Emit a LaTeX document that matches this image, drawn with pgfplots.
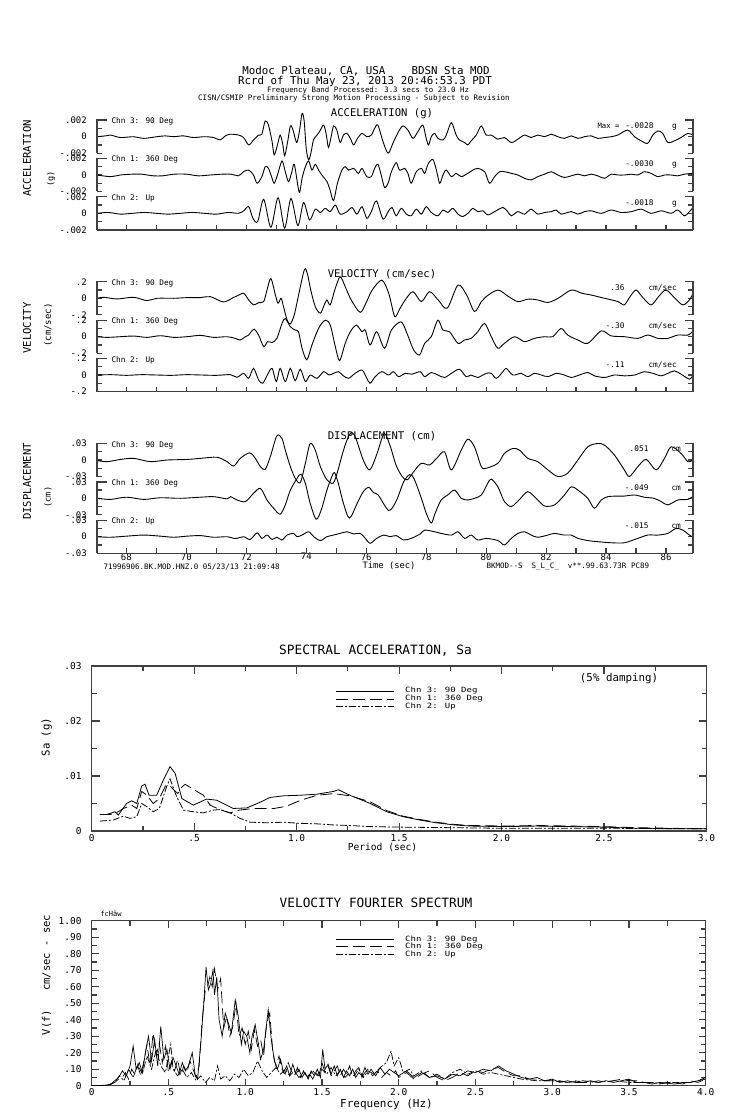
\documentclass[border=0pt]{standalone}
\usepackage{fontspec}
\setmainfont{DejaVu Sans Mono}
\usepackage{pgfplots}
\pgfplotsset{compat=1.18}
\newcommand{\fs}[1]{\fontsize{#1}{#1}\selectfont}
\tikzset{
  axl/.style={black!75, line width=1.4pt},
  tr/.style={black, line width=0.9pt, smooth, mark=none},
  c3/.style={black, line width=0.8pt, mark=none},
  c1/.style={black, line width=0.8pt, mark=none, dash pattern=on 12pt off 5pt},
  c2/.style={black, line width=0.8pt, mark=none, dash pattern=on 7pt off 2pt on 2pt off 2pt},
}
\pgfplotsset{
  tp/.style={scale only axis, width=596pt, height=33pt, xmin=67.02, xmax=86.9,
    clip=false, anchor=west, axis line style={draw=none}, tick align=inside,
    scaled y ticks=false,
    xtick=\empty, ytick pos=both, major tick length=5pt, minor tick length=5pt,
    tick style={line width=1.2pt, black!75},
    yticklabel style={font=\fs{9}, anchor=east, inner sep=0pt, xshift=-10pt}},
  tpb/.style={xtick={68,69,...,86}, xtick pos=left, xticklabels={}},
  acc/.style={ymin=-0.002, ymax=0.002, ytick={-0.002,0,0.002}, yticklabels={-.002,0,.002}, minor ytick={-0.001,0.001}},
  vel/.style={ymin=-0.2, ymax=0.2, ytick={-0.2,0,0.2}, yticklabels={-.2,0,.2}, minor ytick={-0.1,0.1}},
  dis/.style={ymin=-0.03, ymax=0.03, ytick={-0.03,0,0.03}, yticklabels={-.03,0,.03}, minor ytick={-0.015,0.015}},
  sp/.style={scale only axis, anchor=south west, axis line style={black!75, line width=1.4pt},
    scaled ticks=false,
    tick align=inside, xtick pos=both, ytick pos=both, major tick length=8pt, minor tick length=5pt,
    tick style={line width=1.2pt, black!75},
    yticklabel style={font=\fs{9.5}, anchor=east, inner sep=0pt, xshift=-10pt},
    xticklabel style={font=\fs{9.5}, inner sep=0pt, yshift=-3pt}},
}
\newcommand{\brk}{\draw[axl] (rel axis cs:0,0) -- (rel axis cs:0,1) -- ([xshift=10pt]rel axis cs:0,1);
  \draw[axl] (rel axis cs:1,0) -- (rel axis cs:1,1) -- ([xshift=-8pt]rel axis cs:1,1);}
\newcommand{\base}{\draw[axl] (rel axis cs:0,0) -- (rel axis cs:1,0);}

\begin{document}
\begin{tikzpicture}[x=1pt,y=1pt]
\useasboundingbox (0,0) rectangle (739,-1115);

% ---------- header ----------
\node[anchor=base, font=\fs{10.8}] at (366,-75) {Modoc Plateau, CA, USA\ \ \ \ BDSN Sta MOD};
\node[anchor=base, font=\fs{10.8}] at (365,-85) {Rcrd of Thu May 23, 2013 20:46:53.3 PDT};
\node[anchor=base, font=\fs{7.4}] at (368,-92.5) {Frequency Band Processed: 3.3 secs to 23.0 Hz};
\node[anchor=base, font=\fs{7.5}] at (354,-100.5) {CISN/CSMIP Preliminary Strong Motion Processing - Subject to Revision};

% ---------- acceleration ----------
\node[anchor=base, font=\fs{10.6}] at (382,-117) {ACCELERATION (g)};
\node[rotate=90, font=\fs{10.6}] at (27,-158.5) {ACCELERATION};
\node[rotate=90, font=\fs{8.5}] at (51,-179) {(g)};

\begin{axis}[tp, acc, at={(97pt,-136.7pt)}]
\addplot[tr] coordinates {(67.02,0) (67.3,.0001) (67.47,.0002) (67.8,-.0001) (68.24,0) (68.58,-.0002) (69.02,0) (69.3,.0001) (69.58,0) (69.9,.0001) (70.24,-.0001) (70.6,0) (70.91,-.0001) (71.13,-.0004) (71.3,.0001) (71.47,.0003) (71.74,.0002) (71.91,-.0001) (72.08,-.001) (72.24,-.0004) (72.41,.0002) (72.52,.0003) (72.63,.0019) (72.74,.0014) (72.86,-.0006) (72.93,-.0022) (73.04,-.001) (73.13,.0002) (73.22,-.001) (73.28,-.0023) (73.38,-.0006) (73.47,.0013) (73.56,.0008) (73.63,-.0002) (73.69,-.0007) (73.77,.0006) (73.86,.0028) (73.93,.0019) (74.0,-.0015) (74.08,-.0028) (74.16,-.0019) (74.24,-.0004) (74.36,.0002) (74.44,.0006) (74.58,.0014) (74.67,.0002) (74.74,-.0013) (74.83,0) (74.91,.0013) (75.02,.0008) (75.13,-.0007) (75.24,.0002) (75.36,.0004) (75.47,-.0002) (75.58,-.001) (75.71,-.0002) (75.86,.0004) (76.02,0) (76.17,.0002) (76.28,.001) (76.39,.0014) (76.56,-.0006) (76.73,-.002) (76.89,-.0008) (77.06,.0005) (77.22,.0013) (77.39,.0008) (77.56,-.0002) (77.72,.0006) (77.89,.0014) (78.0,-.0002) (78.08,-.001) (78.17,0) (78.28,.0004) (78.39,-.0002) (78.56,-.0004) (78.67,.0002) (78.84,.0017) (79.0,.0002) (79.11,-.0004) (79.28,-.0007) (79.39,-.001) (79.5,-.0005) (79.67,.0002) (79.84,.0013) (80.0,.0002) (80.17,.0002) (80.39,-.0003) (80.61,-.0001) (80.84,-.0007) (81.06,-.0003) (81.28,.0002) (81.5,-.0001) (81.72,.0002) (81.95,0) (82.17,.0003) (82.39,0) (82.61,-.0002) (82.84,.0001) (83.06,-.0002) (83.28,0) (83.5,.0001) (83.72,-.0002) (83.95,-.0001) (84.17,0) (84.39,.0002) (84.72,.0008) (84.95,0) (85.17,-.0005) (85.39,-.0008) (85.56,.0002) (85.73,.0007) (85.89,.0004) (86.06,-.0007) (86.28,-.0005) (86.5,-.0001) (86.73,.0004) (86.9,.0002)};
\brk
\end{axis}

\begin{axis}[tp, acc, at={(97pt,-175pt)}]
\addplot[tr] coordinates {(67.02,0) (67.47,-.0002) (67.8,0) (68.2,.0001) (68.5,.0001) (68.9,-.0001) (69.2,-.0001) (69.6,.0001) (70.0,.0001) (70.4,-.0001) (70.8,0) (71.2,.0001) (71.5,.0001) (71.74,-.0001) (71.91,.0004) (72.08,.0006) (72.24,0) (72.36,-.001) (72.52,-.0002) (72.63,.001) (72.74,.0008) (72.86,-.0004) (72.93,-.001) (73.04,0) (73.19,.0017) (73.3,.0004) (73.41,-.0008) (73.52,.0004) (73.6,.0013) (73.72,-.0013) (73.78,-.0021) (73.86,-.0004) (73.97,.001) (74.08,.0017) (74.19,.0006) (74.3,.0013) (74.41,.0006) (74.52,0) (74.69,-.0008) (74.8,-.0019) (74.91,-.0031) (75.04,-.001) (75.19,.0006) (75.3,.001) (75.41,.0006) (75.58,.0008) (75.74,.0002) (75.86,.0008) (76.02,-.0002) (76.17,-.0002) (76.28,.0008) (76.39,.0013) (76.5,0) (76.61,-.0015) (76.73,-.001) (76.84,.0004) (77.0,.0015) (77.11,.0006) (77.28,.0008) (77.39,.0002) (77.5,-.001) (77.67,.0004) (77.84,.0008) (77.95,.0002) (78.06,.0013) (78.22,.0019) (78.34,.0006) (78.45,-.001) (78.56,0) (78.67,.0006) (78.84,-.0002) (79.0,.0002) (79.17,-.0002) (79.39,.0002) (79.56,.0006) (79.72,.0008) (79.95,.0004) (80.11,-.001) (80.28,-.0002) (80.45,.0004) (80.61,.0004) (80.84,.0002) (81.06,0) (81.28,-.0004) (81.5,-.0006) (81.72,-.0002) (81.95,.0001) (82.17,.0004) (82.39,0) (82.61,-.0003) (82.84,-.0001) (83.06,.0001) (83.28,-.0001) (83.5,.0001) (83.72,-.0001) (83.95,-.0004) (84.17,.0001) (84.39,0) (84.61,0) (84.84,.0001) (85.06,0) (85.28,.0004) (85.5,.0002) (85.73,-.0002) (85.95,0) (86.17,0) (86.39,-.0001) (86.61,.0001) (86.9,.0002)};
\brk
\end{axis}

\begin{axis}[tp, acc, tpb, at={(97pt,-213.3pt)}]
\addplot[tr] coordinates {(67.02,0) (67.4,.0001) (67.8,-.0001) (68.2,0) (68.6,.0001) (69.0,0) (69.4,-.0001) (69.8,0) (70.2,.0001) (70.6,0) (71.0,-.0001) (71.4,.0001) (71.74,0) (71.91,.0003) (72.08,.0008) (72.22,-.0006) (72.38,-.001) (72.58,.0017) (72.82,-.0017) (73.06,.0019) (73.28,-.0018) (73.49,.0018) (73.72,-.0015) (73.91,.0013) (74.11,-.0008) (74.3,.0005) (74.47,.0001) (74.63,.0006) (74.8,.0002) (74.97,.001) (75.13,-.0001) (75.36,.0002) (75.53,.0007) (75.69,-.0001) (75.86,.0008) (76.02,-.0006) (76.17,.0002) (76.34,.0015) (76.56,-.0007) (76.73,.0002) (76.86,.0007) (77.0,-.0003) (77.17,.0006) (77.34,-.0001) (77.5,-.0003) (77.67,.0005) (77.84,-.0001) (78.0,.0008) (78.17,.0001) (78.39,-.0003) (78.56,.0004) (78.72,.0001) (78.89,.0006) (79.06,-.0001) (79.22,-.0004) (79.39,0) (79.56,.0006) (79.72,.0002) (79.89,.0003) (80.06,-.0002) (80.28,.0002) (80.56,.0007) (80.72,.0002) (80.84,-.0003) (81.06,.0002) (81.28,-.0001) (81.5,.0005) (81.72,-.0001) (81.95,.0001) (82.17,.0002) (82.34,.0004) (82.5,-.0001) (82.84,.0002) (83.06,-.0001) (83.28,.0002) (83.5,.0003) (83.84,0) (84.17,.0004) (84.5,.0001) (84.84,.0002) (85.17,.0005) (85.5,0) (85.84,.0003) (86.17,0) (86.39,.0004) (86.61,-.0003) (86.78,.0002) (86.9,.0007)};
\brk \base
\end{axis}

\node[anchor=base west, font=\fs{7.7}] at (108,-124) {Chn 3: 90 Deg};
\node[anchor=base west, font=\fs{7.7}] at (108,-162) {Chn 1: 360 Deg};
\node[anchor=base west, font=\fs{7.7}] at (108,-200.3) {Chn 2: Up};
\node[anchor=base west, font=\fs{7.3}] at (594,-128.7) {Max =};
\node[anchor=base east, font=\fs{7.8}] at (657,-128.7) {-.0028};
\node[anchor=base east, font=\fs{7.8}] at (657,-167) {-.0030};
\node[anchor=base east, font=\fs{7.8}] at (657,-205.3) {-.0018};
\node[anchor=base, font=\fs{7.8}] at (674.5,-128.7) {g};
\node[anchor=base, font=\fs{7.8}] at (674.5,-167) {g};
\node[anchor=base, font=\fs{7.8}] at (674.5,-205.3) {g};

% ---------- velocity ----------
\node[anchor=base, font=\fs{10.6}] at (382,-277) {VELOCITY (cm/sec)};
\node[rotate=90, font=\fs{10.6}] at (27,-328) {VELOCITY};
\node[rotate=90, font=\fs{9}] at (48,-325) {(cm/sec)};

\begin{axis}[tp, vel, at={(97pt,-298.3pt)}]
\addplot[tr] coordinates {(67.02,0) (67.24,.012) (67.69,-.008) (68.24,.012) (68.69,-.028) (69.02,0) (69.58,0) (70.02,.008) (70.47,.008) (70.8,.02) (71.24,-.044) (71.58,.012) (71.69,.028) (71.91,.06) (72.08,-.02) (72.24,-.08) (72.41,-.053) (72.58,-.04) (72.69,.10) (72.82,.24) (72.97,.04) (73.06,-.06) (73.16,0) (73.24,-.10) (73.36,-.26) (73.47,-.31) (73.6,-.20) (73.75,.05) (73.9,.30) (73.97,.36) (74.05,.28) (74.15,.10) (74.3,-.10) (74.47,-.18) (74.6,-.08) (74.69,-.02) (74.8,-.08) (74.95,.10) (75.13,.26) (75.3,.14) (75.5,-.02) (75.8,-.17) (76.0,-.05) (76.2,.10) (76.52,.22) (76.75,.06) (76.95,-.22) (77.1,-.14) (77.3,-.02) (77.56,.08) (77.84,-.04) (78.11,.08) (78.4,-.02) (78.7,-.12) (79.06,.16) (79.35,.04) (79.61,-.16) (79.84,-.04) (80.0,.02) (80.39,.10) (80.75,.02) (81.06,-.04) (81.4,-.01) (81.72,-.02) (82.06,-.05) (82.4,0) (82.84,.10) (83.2,.06) (83.5,.04) (83.95,0) (84.4,-.04) (84.61,-.08) (84.8,.02) (85.0,.10) (85.2,.02) (85.5,-.08) (85.75,.02) (86.0,.10) (86.3,0) (86.56,-.08) (86.78,-.02) (86.9,.06)};
\brk
\end{axis}

\begin{axis}[tp, vel, at={(97pt,-336.7pt)}]
\addplot[tr] coordinates {(67.02,0) (67.36,-.008) (67.8,0) (68.24,.008) (68.69,-.008) (69.13,.012) (69.58,-.008) (70.02,0) (70.47,.016) (70.91,-.008) (71.36,0) (71.63,-.02) (71.8,-.04) (71.97,0) (72.08,.02) (72.16,.06) (72.27,.09) (72.41,.02) (72.58,-.12) (72.71,-.06) (72.86,-.07) (73.02,-.02) (73.19,.16) (73.3,.22) (73.47,.12) (73.63,.08) (73.74,.06) (73.86,-.14) (74.02,-.28) (74.19,-.10) (74.41,.10) (74.63,.20) (74.8,.14) (74.97,-.12) (75.11,-.29) (75.3,-.08) (75.47,.06) (75.67,.14) (75.86,.06) (75.97,.08) (76.13,-.10) (76.35,.06) (76.61,-.14) (76.84,.08) (77.16,.18) (77.36,.04) (77.58,-.16) (77.78,-.22) (77.95,-.08) (78.17,0) (78.39,.20) (78.56,.08) (78.78,.06) (79.06,-.08) (79.28,-.04) (79.5,-.02) (79.72,.06) (79.95,.16) (80.17,0) (80.39,-.14) (80.61,-.08) (80.95,0) (81.28,-.06) (81.61,-.02) (81.95,0) (82.22,0) (82.5,.10) (82.72,.02) (83.06,-.04) (83.39,-.08) (83.84,.07) (84.17,.01) (84.61,0) (85.06,-.02) (85.39,.02) (85.73,-.02) (86.06,-.02) (86.39,.02) (86.73,.02) (86.9,.07)};
\brk
\end{axis}

\begin{axis}[tp, vel, tpb, at={(97pt,-375pt)}]
\addplot[tr] coordinates {(67.02,0) (67.5,.004) (68.0,-.004) (68.5,.004) (69,0) (69.5,-.004) (70,.004) (70.5,0) (71,-.004) (71.47,.004) (71.69,-.028) (71.91,.02) (72.08,-.04) (72.24,.08) (72.41,-.06) (72.55,-.10) (72.7,0) (72.86,.08) (73.0,-.08) (73.13,.08) (73.3,-.08) (73.47,.08) (73.63,-.07) (73.8,.07) (73.97,-.08) (74.13,0) (74.36,-.04) (74.58,.04) (74.75,0) (74.91,.02) (75.08,.04) (75.24,-.01) (75.41,-.04) (75.63,.02) (75.86,.06) (76.02,-.04) (76.13,-.10) (76.3,-.02) (76.52,.04) (76.74,0) (76.91,.04) (77.08,-.02) (77.3,.02) (77.52,.01) (77.8,.04) (77.95,-.02) (78.17,.03) (78.39,0) (78.61,-.03) (78.84,.02) (79.11,.07) (79.33,-.02) (79.5,0) (79.72,-.03) (80.0,.02) (80.17,.02) (80.34,-.04) (80.56,.04) (80.67,.08) (80.89,0) (81.17,.02) (81.39,-.02) (81.61,.02) (81.84,0) (82.06,-.02) (82.34,.02) (82.61,0) (82.84,-.03) (83.11,0) (83.39,.03) (83.61,-.01) (83.95,-.03) (84.28,0) (84.61,-.01) (84.95,0) (85.28,.04) (85.56,.02) (85.84,-.01) (86.06,.02) (86.28,.05) (86.5,.01) (86.78,-.05) (86.9,0)};
\brk \base
\end{axis}

\node[anchor=base west, font=\fs{7.7}] at (108,-285.3) {Chn 3: 90 Deg};
\node[anchor=base west, font=\fs{7.7}] at (108,-323.7) {Chn 1: 360 Deg};
\node[anchor=base west, font=\fs{7.7}] at (108,-362) {Chn 2: Up};
\node[anchor=base east, font=\fs{7.8}] at (628,-290.5) {.36};
\node[anchor=base east, font=\fs{7.8}] at (628,-328.8) {-.30};
\node[anchor=base east, font=\fs{7.8}] at (628,-367.2) {-.11};
\node[anchor=base west, font=\fs{7.8}] at (645,-290.5) {cm/sec};
\node[anchor=base west, font=\fs{7.8}] at (645,-328.8) {cm/sec};
\node[anchor=base west, font=\fs{7.8}] at (645,-367.2) {cm/sec};

% ---------- displacement ----------
\node[anchor=base, font=\fs{10.6}] at (382,-439) {DISPLACEMENT (cm)};
\node[rotate=90, font=\fs{10.6}] at (27,-481.5) {DISPLACEMENT};
\node[rotate=90, font=\fs{8.5}] at (48,-497) {(cm)};

\begin{axis}[tp, dis, at={(97pt,-460pt)}]
\addplot[tr] coordinates {(67.02,-.001) (67.36,-.003) (67.8,.001) (68.24,.003) (68.8,-.003) (69.36,0) (70.02,.001) (70.47,.003) (71.02,.005) (71.36,-.003) (71.58,-.011) (71.8,.003) (72.11,.013) (72.3,.003) (72.47,-.012) (72.63,-.017) (72.8,.006) (73.02,.044) (73.19,.039) (73.3,.018) (73.47,-.012) (73.63,-.033) (73.8,-.041) (73.97,-.006) (74.13,.03) (74.3,.018) (74.47,-.012) (74.69,-.036) (74.9,-.042) (75.05,-.02) (75.2,.01) (75.35,.035) (75.5,.05) (75.65,.04) (75.9,0) (76.12,-.018) (76.35,.01) (76.6,.048) (76.8,.025) (77.0,-.01) (77.2,-.03) (77.37,-.036) (77.6,-.02) (77.84,-.006) (78.11,-.009) (78.35,.003) (78.61,.015) (78.84,-.018) (79.17,.018) (79.39,.038) (79.61,.024) (79.84,-.012) (80.0,-.015) (80.39,-.006) (80.61,.012) (80.89,.021) (81.11,.018) (81.39,.003) (81.72,-.003) (82.06,-.018) (82.39,-.03) (82.72,-.024) (83.06,0) (83.39,.024) (83.72,.03) (83.95,.027) (84.28,.009) (84.61,-.018) (84.78,-.03) (85.06,-.012) (85.34,.001) (85.67,-.018) (85.95,.003) (86.17,.024) (86.5,.012) (86.73,-.003) (86.9,0)};
\brk
\end{axis}

\begin{axis}[tp, dis, at={(97pt,-498.3pt)}]
\addplot[tr] coordinates {(67.02,0) (67.47,-.002) (68.0,.002) (68.58,-.002) (69.13,.001) (69.8,0) (70.47,.002) (70.91,.003) (71.36,-.001) (71.47,.003) (71.69,-.003) (71.97,-.006) (72.24,.009) (72.47,.018) (72.69,-.003) (72.91,-.018) (73.13,-.029) (73.3,-.012) (73.47,.015) (73.69,.036) (73.82,.044) (73.97,.027) (74.13,-.009) (74.33,-.038) (74.5,-.021) (74.69,.015) (74.85,.039) (74.94,.047) (75.07,.027) (75.24,-.009) (75.44,-.036) (75.7,-.009) (75.9,.012) (76.08,.02) (76.25,.01) (76.4,.006) (76.75,-.022) (77.0,-.005) (77.25,.03) (77.45,.043) (77.6,.035) (77.84,0) (78.0,-.027) (78.17,-.045) (78.3,-.027) (78.5,-.003) (78.72,.006) (78.95,.015) (79.17,0) (79.39,-.003) (79.61,0) (79.84,.006) (80.05,.027) (80.17,.035) (80.39,.021) (80.61,-.006) (80.84,-.015) (81.1,-.003) (81.39,.012) (81.72,-.003) (81.95,-.014) (82.28,-.012) (82.61,.006) (82.84,.021) (83.06,.015) (83.39,0) (83.61,-.018) (83.84,-.003) (84.06,.003) (84.4,.004) (84.6,.004) (84.95,.006) (85.28,.002) (85.6,0) (85.84,-.006) (86.06,-.012) (86.4,-.003) (86.73,-.002) (86.9,.004)};
\brk
\end{axis}

\begin{axis}[tp, dis, at={(97pt,-536.7pt)}, xtick={68,70,...,86}, minor xtick={69,71,...,85}, xtick pos=left,
  xticklabels={68,70,72,74,76,78,80,82,84,86}, xticklabel style={font=\fs{9}, inner sep=0pt}]
\addplot[tr] coordinates {(67.02,0) (67.47,-.001) (68.0,.001) (68.58,.003) (69.13,.001) (69.58,-.001) (70.02,.001) (70.47,.002) (70.91,-.001) (71.36,0) (71.58,-.003) (71.69,-.003) (71.91,0) (72.13,-.005) (72.36,.007) (72.52,-.003) (72.69,.003) (72.86,-.005) (73.02,-.001) (73.19,-.006) (73.36,.003) (73.58,.006) (73.69,0) (73.86,.003) (74.08,.009) (74.25,0) (74.47,-.007) (74.69,0) (74.91,.003) (75.13,.006) (75.36,.009) (75.58,.005) (75.8,.006) (75.97,-.003) (76.13,-.012) (76.35,-.003) (76.58,.003) (76.8,0) (77.0,.002) (77.25,-.006) (77.5,-.003) (77.8,.005) (77.95,.012) (78.28,.009) (78.5,.006) (78.84,.003) (79.06,.009) (79.28,-.003) (79.5,.003) (79.72,-.006) (80.0,-.003) (80.39,-.007) (80.61,-.015) (80.84,-.003) (81.06,.006) (81.28,.009) (81.5,.003) (81.72,-.001) (82.06,.003) (82.28,.006) (82.6,.003) (82.84,.003) (83.06,-.003) (83.39,-.007) (83.72,-.009) (84.17,-.011) (84.61,-.011) (85.06,-.003) (85.39,.003) (85.73,.003) (86.06,.006) (86.33,.015) (86.56,.012) (86.78,.003) (86.9,-.001)};
\brk \base
\end{axis}

\node[anchor=base west, font=\fs{7.7}] at (108,-447) {Chn 3: 90 Deg};
\node[anchor=base west, font=\fs{7.7}] at (108,-485.3) {Chn 1: 360 Deg};
\node[anchor=base west, font=\fs{7.7}] at (108,-523.7) {Chn 2: Up};
\node[anchor=base east, font=\fs{7.8}] at (652,-451.7) {.051};
\node[anchor=base east, font=\fs{7.8}] at (652,-490) {-.049};
\node[anchor=base east, font=\fs{7.8}] at (652,-528.4) {-.015};
\node[anchor=base west, font=\fs{7.8}] at (668,-451.7) {cm};
\node[anchor=base west, font=\fs{7.8}] at (668,-490) {cm};
\node[anchor=base west, font=\fs{7.8}] at (668,-528.4) {cm};

\node[font=\fs{8.8}] at (389,-566) {Time (sec)};
\node[anchor=west, font=\fs{7.5}] at (100,-566.7) {71996906.BK.MOD.HNZ.0 05/23/13 21:09:48};
\node[anchor=west, font=\fs{7.5}] at (483,-567) {BKMOD{-}{-}S\ \ S\_L\_C\_\ \ v**.99.63.73R PC89};

% ---------- spectral acceleration ----------
\node[font=\fs{12.8}] at (375.5,-650.7) {SPECTRAL ACCELERATION, Sa};
\node[font=\fs{10.8}] at (619,-679) {(5\% damping)};
\node[rotate=90, font=\fs{10.7}] at (46.7,-737) {Sa (g)};
\node[font=\fs{9.6}] at (382.5,-847) {Period (sec)};

\begin{axis}[sp, width=614.8pt, height=165pt, at={(91.7pt,-831pt)},
  xmin=0, xmax=3, ymin=0, ymax=0.03,
  xtick={0,0.5,1,1.5,2,2.5,3}, xticklabels={0,.5,1.0,1.5,2.0,2.5,3.0},
  minor xtick={0.25,0.75,1.25,1.75,2.25,2.75},
  ytick={0,0.01,0.02,0.03}, yticklabels={0,.01,.02,.03}, minor ytick={0.005,0.015,0.025}]
\addplot[c3] coordinates {(0.04,.0030) (0.073,.0030) (0.114,.0035) (0.13,.0029) (0.17,.0050) (0.195,.0055) (0.22,.0050) (0.244,.0082) (0.26,.0085) (0.28,.0065) (0.317,.0065) (0.35,.0093) (0.382,.0117) (0.407,.0105) (0.44,.0059) (0.496,.0047) (0.56,.0058) (0.61,.0056) (0.69,.0041) (0.757,.0042) (0.82,.0052) (0.87,.0061) (0.936,.0064) (1.017,.0065) (1.10,.0067) (1.18,.0072) (1.204,.0075) (1.26,.0065) (1.36,.0050) (1.44,.0035) (1.52,.0026) (1.60,.0020) (1.68,.0015) (1.77,.0011) (1.85,.0009) (2.01,.0008) (2.17,.0009) (2.34,.0008) (2.50,.0007) (2.66,.0005) (2.82,.0004) (3.0,.0004)};
\addplot[c1] coordinates {(0.04,.0030) (0.09,.0030) (0.12,.0033) (0.155,.0041) (0.195,.0047) (0.22,.0041) (0.244,.0072) (0.27,.0065) (0.30,.0050) (0.33,.0059) (0.36,.0082) (0.38,.0083) (0.40,.0075) (0.42,.0068) (0.44,.0080) (0.456,.0085) (0.50,.0075) (0.545,.0065) (0.578,.0047) (0.63,.0038) (0.675,.0033) (0.72,.0038) (0.79,.0041) (0.89,.0041) (0.95,.0045) (1.02,.0056) (1.10,.0065) (1.18,.0068) (1.26,.0064) (1.36,.0053) (1.44,.0037) (1.52,.0027) (1.6,.0021) (1.68,.0016) (1.77,.0012) (1.85,.0010) (2.01,.0009) (2.17,.0010) (2.34,.0009) (2.5,.0008) (2.66,.0006) (2.82,.0005) (3.0,.0004)};
\addplot[c2] coordinates {(0.04,.0018) (0.106,.0020) (0.155,.0027) (0.187,.0023) (0.22,.0026) (0.244,.0050) (0.27,.0044) (0.30,.0035) (0.33,.0041) (0.366,.0081) (0.382,.0095) (0.415,.0062) (0.448,.0038) (0.496,.0035) (0.545,.0033) (0.594,.0038) (0.627,.0039) (0.675,.0033) (0.724,.0023) (0.773,.0016) (0.855,.0015) (0.936,.0016) (1.017,.0014) (1.10,.0013) (1.18,.0011) (1.26,.0010) (1.36,.0008) (1.52,.0007) (2.0,.0005) (2.5,.0005) (3.0,.0004)};
\end{axis}

\draw[c3] (336,-691) -- (394,-691);
\draw[c1] (336,-699) -- (394,-699);
\draw[c2] (336,-706.7) -- (394,-706.7);
\node[anchor=west, font=\fs{9}, inner sep=0pt] at (405,-691) {\scalebox{1}[0.8]{Chn 3: 90 Deg}};
\node[anchor=west, font=\fs{9}, inner sep=0pt] at (405,-698.7) {\scalebox{1}[0.8]{Chn 1: 360 Deg}};
\node[anchor=west, font=\fs{9}, inner sep=0pt] at (405,-706.4) {\scalebox{1}[0.8]{Chn 2: Up}};

% ---------- velocity Fourier spectrum ----------
\node[font=\fs{12.8}] at (376,-903) {VELOCITY FOURIER SPECTRUM};
\node[anchor=west, font=\fs{7}] at (97,-914) {fcHäw};
\node[rotate=90, font=\fs{10.5}] at (46.7,-975) {V(f)\ \ \ cm/sec - sec};
\node[font=\fs{11}] at (386.5,-1104) {Frequency (Hz)};

\begin{axis}[sp, width=614pt, height=165pt, at={(91.7pt,-1085.7pt)},
  xmin=0, xmax=4, ymin=0, ymax=1, major tick length=7pt,
  xtick={0,0.5,1,1.5,2,2.5,3,3.5,4}, xticklabels={0,.5,1.0,1.5,2.0,2.5,3.0,3.5,4.0},
  minor xtick={0.25,0.75,1.25,1.75,2.25,2.75,3.25,3.75},
  ytick={0,0.1,0.2,0.3,0.4,0.5,0.6,0.7,0.8,0.9,1},
  yticklabels={0,.10,.20,.30,.40,.50,.60,.70,.80,.90,1.00},
  minor ytick={0.05,0.15,0.25,0.35,0.45,0.55,0.65,0.75,0.85,0.95}]
\addplot[c3, line width=0.7pt] coordinates {(0,0) (0.05,.001) (0.1,.004) (0.125,.01) (0.15,.03) (0.175,.05) (0.2,.09) (0.225,.06) (0.25,.12) (0.27,.24) (0.29,.10) (0.31,.14) (0.33,.08) (0.35,.20) (0.37,.30) (0.39,.15) (0.41,.28) (0.43,.12) (0.45,.36) (0.47,.16) (0.49,.22) (0.51,.10) (0.53,.17) (0.55,.12) (0.57,.07) (0.59,.14) (0.61,.09) (0.63,.12) (0.655,.20) (0.675,.06) (0.69,.04) (0.71,.25) (0.73,.50) (0.745,.72) (0.76,.58) (0.775,.62) (0.79,.70) (0.80,.55) (0.815,.66) (0.83,.40) (0.85,.30) (0.87,.44) (0.89,.38) (0.91,.32) (0.935,.52) (0.955,.42) (0.975,.25) (0.99,.33) (1.01,.30) (1.03,.20) (1.045,.30) (1.065,.37) (1.085,.26) (1.10,.16) (1.12,.22) (1.15,.46) (1.17,.28) (1.19,.15) (1.21,.10) (1.23,.16) (1.25,.08) (1.27,.12) (1.29,.06) (1.31,.13) (1.33,.07) (1.35,.10) (1.37,.05) (1.39,.08) (1.41,.04) (1.43,.09) (1.45,.06) (1.47,.10) (1.49,.05) (1.505,.22) (1.52,.10) (1.54,.13) (1.56,.07) (1.58,.12) (1.60,.06) (1.62,.10) (1.64,.05) (1.66,.09) (1.68,.06) (1.70,.10) (1.72,.05) (1.74,.08) (1.76,.06) (1.78,.11) (1.80,.07) (1.82,.10) (1.85,.06) (1.88,.11) (1.91,.07) (1.94,.10) (1.97,.08) (2.0,.06) (2.05,.09) (2.1,.05) (2.15,.08) (2.2,.05) (2.25,.06) (2.3,.04) (2.35,.07) (2.4,.06) (2.45,.09) (2.5,.08) (2.55,.10) (2.6,.09) (2.65,.12) (2.7,.09) (2.75,.07) (2.8,.05) (2.85,.04) (2.9,.05) (2.95,.03) (3.0,.04) (3.05,.02) (3.1,.03) (3.15,.02) (3.2,.02) (3.25,.03) (3.3,.02) (3.35,.03) (3.4,.02) (3.45,.03) (3.5,.04) (3.55,.02) (3.6,.02) (3.65,.01) (3.7,.02) (3.75,.015) (3.8,.01) (3.85,.02) (3.9,.02) (3.95,.03) (4.0,.05)};
\addplot[c1, line width=0.7pt] coordinates {(0,0) (0.05,.001) (0.1,.003) (0.125,.008) (0.15,.02) (0.175,.04) (0.2,.05) (0.22,.08) (0.24,.04) (0.26,.10) (0.28,.07) (0.30,.12) (0.32,.06) (0.34,.15) (0.36,.25) (0.38,.12) (0.40,.32) (0.42,.18) (0.44,.26) (0.46,.14) (0.48,.24) (0.50,.08) (0.52,.15) (0.54,.09) (0.56,.16) (0.58,.06) (0.60,.12) (0.62,.08) (0.64,.15) (0.66,.10) (0.68,.05) (0.70,.12) (0.72,.40) (0.74,.58) (0.755,.60) (0.77,.66) (0.785,.60) (0.80,.71) (0.82,.58) (0.84,.65) (0.86,.35) (0.88,.42) (0.90,.30) (0.92,.36) (0.94,.50) (0.96,.30) (0.98,.35) (1.00,.25) (1.02,.33) (1.04,.22) (1.06,.34) (1.08,.24) (1.10,.28) (1.12,.18) (1.14,.38) (1.16,.44) (1.18,.20) (1.20,.12) (1.22,.18) (1.24,.10) (1.26,.07) (1.28,.14) (1.30,.09) (1.32,.06) (1.34,.11) (1.36,.05) (1.38,.09) (1.40,.05) (1.42,.07) (1.44,.04) (1.46,.08) (1.48,.06) (1.50,.14) (1.52,.08) (1.54,.12) (1.56,.06) (1.58,.09) (1.60,.12) (1.62,.06) (1.64,.10) (1.66,.07) (1.68,.12) (1.70,.06) (1.72,.09) (1.74,.11) (1.76,.05) (1.78,.08) (1.80,.10) (1.83,.06) (1.86,.09) (1.89,.05) (1.92,.08) (1.95,.06) (1.98,.09) (2.0,.05) (2.05,.08) (2.1,.04) (2.15,.07) (2.2,.09) (2.25,.05) (2.3,.03) (2.35,.05) (2.4,.08) (2.45,.06) (2.5,.09) (2.55,.08) (2.6,.10) (2.65,.11) (2.7,.08) (2.75,.06) (2.8,.06) (2.85,.04) (2.9,.04) (2.95,.03) (3.0,.03) (3.05,.03) (3.1,.02) (3.15,.03) (3.2,.02) (3.25,.02) (3.3,.03) (3.35,.02) (3.4,.03) (3.45,.04) (3.5,.03) (3.55,.03) (3.6,.02) (3.65,.02) (3.7,.01) (3.75,.02) (3.8,.02) (3.85,.01) (3.9,.03) (3.95,.02) (4.0,.04)};
\addplot[c2, line width=0.7pt] coordinates {(0,0) (0.1,.003) (0.15,.02) (0.18,.06) (0.21,.03) (0.24,.10) (0.27,.05) (0.30,.13) (0.33,.07) (0.36,.18) (0.39,.10) (0.42,.22) (0.45,.12) (0.48,.08) (0.50,.18) (0.515,.25) (0.53,.10) (0.56,.06) (0.59,.10) (0.62,.05) (0.65,.08) (0.68,.03) (0.71,.06) (0.74,.02) (0.77,.05) (0.80,.03) (0.82,.12) (0.84,.04) (0.87,.06) (0.90,.03) (0.93,.07) (0.96,.05) (0.99,.10) (1.02,.06) (1.05,.08) (1.08,.15) (1.11,.09) (1.14,.05) (1.17,.08) (1.20,.11) (1.23,.07) (1.26,.10) (1.29,.06) (1.32,.09) (1.35,.05) (1.38,.08) (1.41,.05) (1.44,.09) (1.47,.06) (1.50,.10) (1.53,.07) (1.56,.11) (1.59,.06) (1.62,.09) (1.65,.05) (1.68,.08) (1.71,.06) (1.74,.10) (1.77,.05) (1.80,.09) (1.84,.07) (1.88,.11) (1.92,.14) (1.95,.21) (1.97,.12) (2.0,.17) (2.03,.08) (2.07,.10) (2.1,.06) (2.15,.09) (2.2,.05) (2.25,.07) (2.3,.04) (2.35,.08) (2.4,.10) (2.45,.07) (2.5,.09) (2.55,.07) (2.6,.08) (2.65,.07) (2.7,.06) (2.75,.05) (2.8,.04) (2.9,.03) (3.0,.03) (3.1,.02) (3.2,.03) (3.3,.02) (3.4,.03) (3.5,.02) (3.6,.02) (3.7,.015) (3.8,.02) (3.9,.02) (4.0,.04)};
\end{axis}

\draw[c3] (336,-939.3) -- (394,-939.3);
\draw[c1] (336,-946.7) -- (394,-946.7);
\draw[c2] (336,-954.3) -- (394,-954.3);
\node[anchor=west, font=\fs{9}, inner sep=0pt] at (405,-939.3) {\scalebox{1}[0.8]{Chn 3: 90 Deg}};
\node[anchor=west, font=\fs{9}, inner sep=0pt] at (405,-946.8) {\scalebox{1}[0.8]{Chn 1: 360 Deg}};
\node[anchor=west, font=\fs{9}, inner sep=0pt] at (405,-954.3) {\scalebox{1}[0.8]{Chn 2: Up}};
\end{tikzpicture}
\end{document}
